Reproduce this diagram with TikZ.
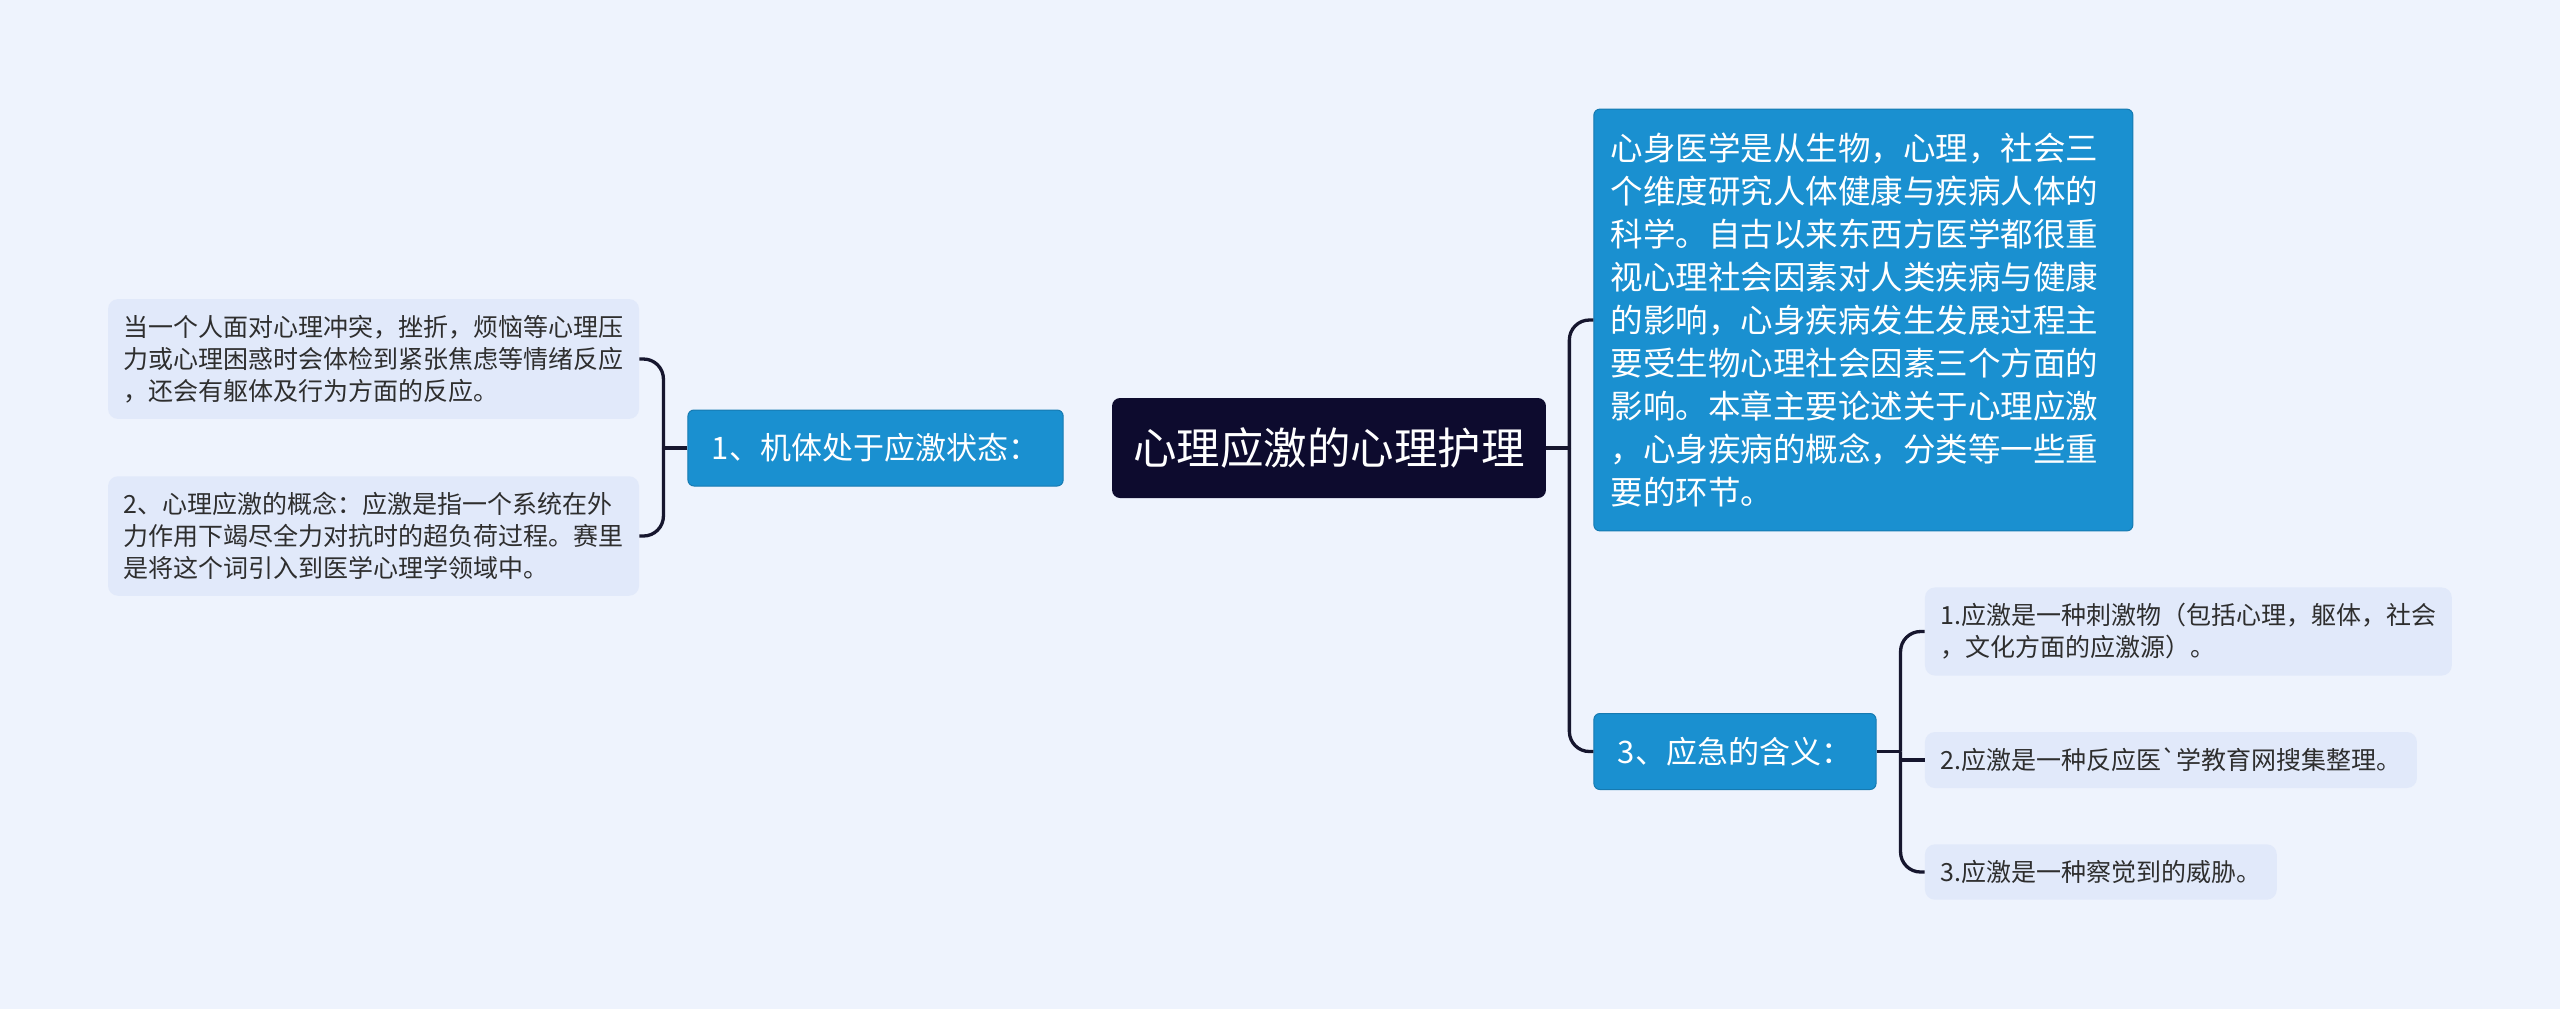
\documentclass[tikz,border=0pt]{standalone}
\usepackage{fontspec}
\usetikzlibrary{positioning}
\newfontfamily\cjkfont{Noto Sans CJK SC}
\definecolor{bgblue}{HTML}{EEF3FD}
\definecolor{leaffill}{HTML}{E1E9FA}
\definecolor{topicblue}{HTML}{1A90D0}
\definecolor{rootnavy}{HTML}{0D0B2E}
\definecolor{linknavy}{HTML}{16162E}
\tikzstyle{root} = [rectangle, rounded corners=4pt, minimum height=50pt, inner xsep=10.6pt, fill=rootnavy, text=white, font=\cjkfont\fontsize{21.75pt}{26pt}\selectfont]
\tikzstyle{topic} = [rectangle, rounded corners=3pt, minimum height=38pt, inner xsep=12pt, fill=topicblue, draw=topicblue!85!black, line width=0.5pt, text=white, font=\cjkfont\fontsize{15.5pt}{19pt}\selectfont]
\tikzstyle{bigtopic} = [topic, align=left, text width=252.5pt, inner xsep=8.5pt, inner ysep=11.9pt, font=\cjkfont\fontsize{16.25pt}{21.5pt}\selectfont]
\tikzstyle{leaf} = [rectangle, rounded corners=5pt, inner xsep=7.75pt, inner ysep=8pt, fill=leaffill, text=black!82, align=left, font=\cjkfont\fontsize{12.5pt}{16pt}\selectfont]
\tikzstyle{link} = [line width=1.65pt, draw=linknavy, rounded corners=10pt]

\begin{document}
\begin{tikzpicture}[x=0.5pt, y=-0.5pt]
            \path [use as bounding box, fill=bgblue] (0,0) rectangle (2560,1009);

            \node (root) [root] at (1329,448) {心理应激的心理护理};
            \node (state) [topic, left=24pt of root] {1、机体处于应激状态：};
            \node (react) [leaf, left=24pt of state, yshift=44.5pt] {当一个人面对心理冲突，挫折，烦恼等心理压\\力或心理困惑时会体检到紧张焦虑等情绪反应\\，还会有躯体及行为方面的反应。};
            \node (concept) [leaf, left=24pt of state, yshift=-44pt] {2、心理应激的概念：应激是指一个系统在外\\力作用下竭尽全力对抗时的超负荷过程。赛里\\是将这个词引入到医学心理学领域中。};
            \node (intro) [bigtopic, right=23.5pt of root, yshift=64pt] {心身医学是从生物，心理，社会三\\个维度研究人体健康与疾病人体的\\科学。自古以来东西方医学都很重\\视心理社会因素对人类疾病与健康\\的影响，心身疾病发生发展过程主\\要受生物心理社会因素三个方面的\\影响。本章主要论述关于心理应激\\，心身疾病的概念，分类等一些重\\要的环节。};
            \node (meaning) [topic, right=23.5pt of root, yshift=-151.75pt] {3、应急的含义：};
            \node (stimulus) [leaf, right=24pt of meaning, yshift=60pt] {1.应激是一种刺激物（包括心理，躯体，社会\\，文化方面的应激源）。};
            \node (response) [leaf, right=24pt of meaning, yshift=-4.25pt] {2.应激是一种反应医`学教育网搜集整理。};
            \node (threat) [leaf, right=24pt of meaning, yshift=-60.25pt] {3.应激是一种察觉到的威胁。};

            % bracket joints
            \coordinate (statejoint) at ([xshift=-12pt]state.west);
            \coordinate (rootjoint) at ([xshift=11.5pt]root.east);
            \coordinate (meaningjoint) at ([xshift=12pt]meaning.east);

            \draw [link] (state.west) -- (statejoint);
            \draw [link] (statejoint) |- (react.east);
            \draw [link] (statejoint) |- (concept.east);
            \draw [link] (root.east) -- (rootjoint);
            \draw [link] (rootjoint) |- (intro.west);
            \draw [link] (rootjoint) |- (meaning.west);
            \draw [link] (meaning.east) -- (meaningjoint);
            \draw [link] (meaningjoint) |- (stimulus.west);
            \draw [link, sharp corners] (meaningjoint) |- (response.west);
            \draw [link] (meaningjoint) |- (threat.west);

            \end{tikzpicture}
\end{document}
